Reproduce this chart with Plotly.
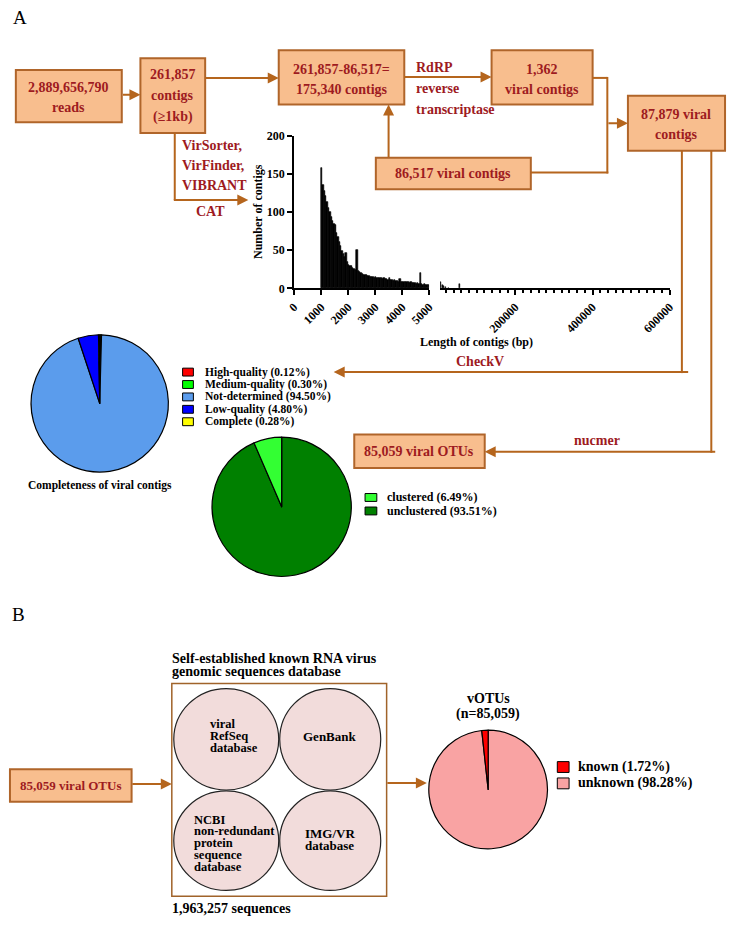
import plotly.graph_objects as go

W, H = 733, 926
FONT = "Liberation Serif"
RED = "#9E1B1F"
BROWN = "#B5651D"
BOXFILL = "#F8BE8E"
BOXLINE = "#B0652A"


def X(px):
    return px / W


def Y(py):
    return 1 - py / H


# ---------------- data ----------------
bin_start = list(range(1000, 5000, 50))
bin_counts = [158, 136, 128, 121, 113, 106, 100, 94, 89, 85,
              83, 73, 67, 61, 56, 49, 45, 41, 46, 34,
              31, 30, 29, 27, 26, 24, 51, 23, 21, 20,
              19, 18, 17, 17, 16, 16, 15, 15, 15, 14,
              15, 14, 13, 14, 13, 12, 13, 12, 12, 11,
              13, 11, 11, 10, 11, 10, 10, 9, 12, 9,
              9, 8, 9, 8, 8, 7, 8, 7, 7, 7,
              6, 7, 6, 20, 6, 5, 6, 5, 5, 4]
long_x = [6000, 9000, 13000, 18000, 26000, 55000]
long_counts = [8, 4, 3, 2, 1, 6]

seg1_ticks = [0, 1000, 2000, 3000, 4000, 5000]
seg2_ticks = [200000, 400000, 600000]
y_ticks = [0, 50, 100, 150, 200]

quality_labels = ["High-quality", "Medium-quality", "Not-determined", "Low-quality", "Complete"]
quality_values = [0.12, 0.30, 94.50, 4.80, 0.28]
quality_colors = ["#FF0000", "#00FF00", "#5B9CEC", "#0000FF", "#FFFF00"]

cluster_labels = ["clustered", "unclustered"]
cluster_values = [6.49, 93.51]
cluster_colors = ["#33FF33", "#008000"]

known_labels = ["known", "unknown"]
known_values = [1.72, 98.28]
known_colors = ["#FF0000", "#F9A3A3"]

# ---------------- figure ----------------
fig = go.Figure()
shapes = []
anns = []


def txt(x, y, s, size=14, color=RED, xanchor="center", bold=True, angle=0):
    anns.append(dict(x=X(x), y=Y(y), xref="paper", yref="paper",
                     text=(f"<b>{s}</b>" if bold else s), showarrow=False,
                     font=dict(family=FONT, size=size, color=color),
                     xanchor=xanchor, yanchor="middle", textangle=angle,
                     borderpad=0))


def box(x0, y0, x1, y1, fill=BOXFILL, line=BOXLINE, w=2):
    shapes.append(dict(type="rect", xref="paper", yref="paper",
                       x0=X(x0), x1=X(x1), y0=Y(y1), y1=Y(y0),
                       fillcolor=fill, line=dict(color=line, width=w), layer="below"))


def line(x0, y0, x1, y1, color=BROWN, w=2):
    shapes.append(dict(type="line", xref="paper", yref="paper",
                       x0=X(x0), x1=X(x1), y0=Y(y0), y1=Y(y1),
                       line=dict(color=color, width=w)))


def arrow(x0, y0, x1, y1):
    anns.append(dict(x=X(x1), y=Y(y1), xref="paper", yref="paper",
                     ax=x0 - x1, ay=y0 - y1, axref="pixel", ayref="pixel",
                     text="", showarrow=True, arrowhead=2, arrowsize=1.1,
                     arrowwidth=2, arrowcolor=BROWN, standoff=0))


def ellipse(x0, y0, x1, y1):
    shapes.append(dict(type="circle", xref="paper", yref="paper",
                       x0=X(x0), x1=X(x1), y0=Y(y1), y1=Y(y0),
                       fillcolor="#F2DCDB", line=dict(color="#222222", width=1.2),
                       layer="below"))


# ---- histogram (broken x axis) ----
fig.add_trace(go.Bar(x=bin_start, y=bin_counts, width=50, offset=0,
                     marker=dict(color="black", line=dict(width=0.7, color="black")),
                     xaxis="x", yaxis="y", showlegend=False, hoverinfo="skip"))
fig.add_trace(go.Bar(x=long_x, y=long_counts, width=2500, offset=0,
                     marker=dict(color="black", line=dict(width=0.5, color="black")),
                     xaxis="x2", yaxis="y", showlegend=False, hoverinfo="skip"))

tickfont = dict(family=FONT, size=12, color="black", weight="bold")
axis_common = dict(showline=True, linewidth=2, linecolor="black", ticks="outside",
                   ticklen=5, tickwidth=2, tickcolor="black", showgrid=False,
                   zeroline=False, tickfont=tickfont, fixedrange=True)


# ---- pies (slices run clockwise from 12 o'clock; the first listed category
#      is drawn last so that it sits just left of the top, as in the reference) ----
def pie(values, labels, colors, cx, cy, r, first_last=False):
    v, l, c = list(values), list(labels), list(colors)
    if first_last:
        v, l, c = v[::-1], l[::-1], c[::-1]
    fig.add_trace(go.Pie(values=v, labels=l, sort=False, direction="clockwise",
                         rotation=0, textinfo="none", hoverinfo="skip",
                         marker=dict(colors=c, line=dict(color="black", width=1.2)),
                         domain=dict(x=[X(cx - r), X(cx + r)], y=[Y(cy + r), Y(cy - r)]),
                         showlegend=False))


pie(quality_values, quality_labels, quality_colors, 93.5, 402.5, 70)
pie(cluster_values, cluster_labels, cluster_colors, 279, 507.5, 71, first_last=True)
pie(known_values, known_labels, known_colors, 489.5, 794.5, 60.5, first_last=True)


def legend(labels, values, colors, x, y0, dy, size, w=11, h=8, gap=11):
    for i, (lab, val, col) in enumerate(zip(labels, values, colors)):
        yy = y0 + i * dy
        shapes.append(dict(type="rect", xref="paper", yref="paper",
                           x0=X(x), x1=X(x + w), y0=Y(yy + h / 2), y1=Y(yy - h / 2),
                           fillcolor=col, line=dict(color="black", width=1)))
        txt(x + w + gap, yy, f"{lab} ({val:.2f}%)", size=size, color="black", xanchor="left")


legend(quality_labels, quality_values, quality_colors, 178, 370.7, 12.6, 11.5)
legend(cluster_labels, cluster_values, cluster_colors, 364, 498, 13.7, 12, w=12, gap=9)
legend(known_labels, known_values, known_colors, 560, 771.7, 16.6, 14, w=12, h=11, gap=8)

txt(93.5, 485.7, "Completeness of viral contigs", size=11.5, color="black")

# ---- panel labels ----
txt(4, 11, "A", size=19, color="black", xanchor="left", bold=False)
txt(3, 617, "B", size=19, color="black", xanchor="left", bold=False)

# ---- flowchart panel A ----
box(8, 64, 116, 117)
txt(62, 82, "2,889,656,790")
txt(62, 102, "reads")

box(135, 52, 201, 128)
txt(168, 69, "261,857")
txt(168, 90, "contigs")
txt(168, 112, "(≥1kb)")

box(276, 44, 404, 99)
txt(340, 63, "261,857-86,517=")
txt(340, 84, "175,340 contigs")

txt(415, 61, "RdRP", xanchor="left")
txt(415, 83, "reverse", xanchor="left")
txt(415, 104, "transcriptase", xanchor="left")

box(493, 44, 596, 99)
txt(544.5, 63, "1,362")
txt(544.5, 84, "viral contigs")

box(632, 90, 731, 146)
txt(681.5, 109, "87,879 viral")
txt(681.5, 129, "contigs")

box(375, 153, 533, 185)
txt(454, 169, "86,517 viral contigs")

txt(176, 141, "VirSorter,", xanchor="left")
txt(176, 161, "VirFinder,", xanchor="left")
txt(176, 181, "VIBRANT", xanchor="left")
txt(206, 208, "CAT")

arrow(116, 89, 135, 89)
arrow(201, 72, 276, 72)
arrow(404, 71, 493, 71)
line(596, 72, 611, 72)
line(611, 71, 611, 169)
line(533, 168, 612, 168)
arrow(611, 118, 632, 118)
arrow(388, 153, 388, 99)
line(170, 128, 170, 196)
arrow(169, 196, 245, 196)

line(687, 146, 687, 371.7)
arrow(688, 370.7, 332, 370.7)
txt(481, 360, "CheckV")
line(717, 146, 717, 452.7)
arrow(718, 451.7, 486, 451.7)
txt(600, 440, "nucmer")

box(353, 434, 486, 468)
txt(419.5, 451, "85,059 viral OTUs")

# ---- histogram labels ----
txt(255, 208, "Number of contigs", size=12, color="black", angle=-90)
txt(478, 340, "Length of contigs (bp)", size=12, color="black")

# ---- panel B ----
box(2, 774, 126, 807)
txt(64, 790, "85,059 viral OTUs", size=13)
arrow(126, 789, 167, 789)

txt(166, 662, "Self-established known RNA virus", size=14, color="black", xanchor="left")
txt(166, 675, "genomic sequences database", size=14, color="black", xanchor="left")
box(167, 687, 386, 903, fill="rgba(0,0,0,0)", line="#A0632A", w=1.5)
ellipse(169, 692, 276, 795)
ellipse(277, 692, 380, 795)
ellipse(169, 796, 276, 897)
ellipse(277, 796, 380, 897)
for i, s in enumerate(["viral", "RefSeq", "database"]):
    txt(205, 728 + i * 12, s, size=12.5, color="black", xanchor="left")
txt(328.5, 741, "GenBank", size=13, color="black")
for i, s in enumerate(["NCBI", "non-redundant", "protein", "sequence", "database"]):
    txt(189, 825 + i * 12, s, size=12.5, color="black", xanchor="left")
txt(328, 839, "IMG/VR", size=13, color="black")
txt(328, 851.5, "database", size=13, color="black")
txt(166, 915, "1,963,257 sequences", size=14, color="black", xanchor="left")
arrow(386, 788, 427, 788)

txt(489.5, 701.7, "vOTUs", size=14, color="black")
txt(489.5, 718, "(n=85,059)", size=14, color="black")

fig.update_layout(
    width=W, height=H, autosize=False,
    margin=dict(l=0, r=0, t=0, b=0, pad=0),
    paper_bgcolor="white", plot_bgcolor="rgba(0,0,0,0)",
    shapes=shapes, annotations=anns,
    xaxis=dict(domain=[X(291.7), X(429.5)], range=[0, 5000], anchor="y",
               tickmode="array", tickvals=seg1_ticks, ticktext=[str(t) for t in seg1_ticks],
               tickangle=-45, **axis_common),
    xaxis2=dict(domain=[X(440.5), X(674.7)], range=[5000, 600000], anchor="y",
                tickmode="array", tickvals=seg2_ticks, ticktext=[str(t) for t in seg2_ticks],
                tickangle=-45,
                minor=dict(tickmode="linear", tick0=0, dtick=20000, ticks="outside",
                           ticklen=3, tickwidth=1.5, tickcolor="black"),
                **axis_common),
    yaxis=dict(domain=[Y(285.7), Y(131)], range=[0, 200], anchor="x",
               tickmode="array", tickvals=y_ticks, ticktext=[str(t) for t in y_ticks],
               **axis_common),
    bargap=0,
)

fig.write_html("out.html",
               config={"displayModeBar": False},
               post_script="document.body.style.margin='0';"
                           "document.documentElement.style.overflow='hidden';")
